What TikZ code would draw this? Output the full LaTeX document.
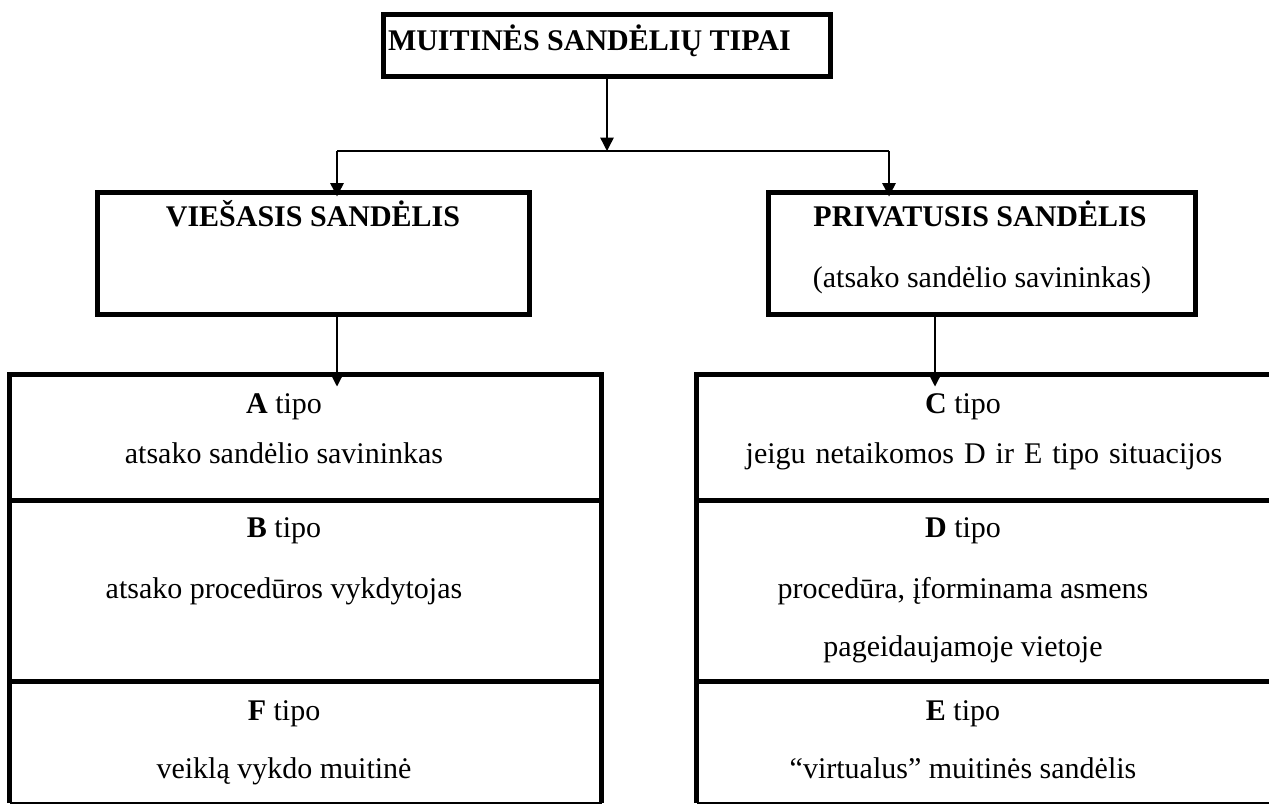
\documentclass[tikz,border=0pt]{standalone}
\usepackage{fontspec}
\setmainfont{Liberation Serif}
\usetikzlibrary{arrows.meta}
\begin{document}
\begin{tikzpicture}[x=0.75pt,y=-0.75pt,
  thickbox/.style={draw, line width=4.2pt, inner sep=0pt, outer sep=0pt},
  cell/.style={inner sep=0pt, outer sep=0pt},
  txt/.style={inner sep=0pt, outer sep=0pt, anchor=base, font=\fontsize{22.5}{27}\selectfont},
  framethick/.style={line width=4.2pt},
  framethin/.style={line width=0.9pt},
  conn/.style={line width=1.1pt},
  arr/.style={conn, -{Triangle[width=10pt,length=10pt]}},
]
\useasboundingbox (0,0) rectangle (1269,805);
\clip (0,0) rectangle (1269,805);

% top-level boxes
\node[thickbox, minimum width=335.25pt, minimum height=46.5pt] (title) at (607,45.5) {};
\node[thickbox, minimum width=324pt, minimum height=91.5pt] (vies) at (313.5,253.5) {};
\node[thickbox, minimum width=320.25pt, minimum height=91.5pt] (priv) at (982,253.5) {};

% table cells
\node[cell, minimum width=444pt, minimum height=94.5pt] (cellA) at (305.5,437.5) {};
\node[cell, minimum width=444pt, minimum height=135.75pt] (cellB) at (305.5,591) {};
\node[cell, minimum width=444pt, minimum height=91.125pt] (cellF) at (305.5,742.25) {};
\node[cell, minimum width=437.625pt, minimum height=94.5pt] (cellC) at (988.25,437.5) {};
\node[cell, minimum width=437.625pt, minimum height=135.75pt] (cellD) at (988.25,591) {};
\node[cell, minimum width=437.625pt, minimum height=91.125pt] (cellE) at (988.25,742.25) {};

% connectors
\coordinate (junc) at (607,151);
\coordinate (jL) at (337,151);
\coordinate (jR) at (889,151);
\coordinate (dR) at (935,320);
\draw[arr] (title.south) -- (junc);
\draw[conn] (jL) -- (jR);
\draw[arr] (jL) -- ([yshift=-3pt]jL |- vies.north);
\draw[arr] (jR) -- ([yshift=-3pt]jR |- priv.north);
\draw[arr] (jL |- vies.south) -- ([yshift=-9pt]jL |- cellA.north);
\draw[arr] (dR |- priv.south) -- ([yshift=-9pt]dR |- cellC.north);

% table frames
\draw[framethick] (cellF.south west) -- (cellA.north west) -- (cellA.north east) -- (cellF.south east);
\draw[framethick] (cellA.south west) -- (cellA.south east);
\draw[framethick] (cellB.south west) -- (cellB.south east);
\draw[framethin] (cellF.south west) -- (cellF.south east);
\draw[framethick] (cellE.south west) -- (cellC.north west) -- (cellC.north east) -- (cellE.south east);
\draw[framethick] (cellC.south west) -- (cellC.south east);
\draw[framethick] (cellD.south west) -- (cellD.south east);
\draw[framethin] (cellE.south west) -- (cellE.south east);

% texts
\node[txt, anchor=base west] (titletxt) at (388,51) {\textbf{MUITINĖS SANDĖLIŲ TIPAI}};
\node[txt] (viestxt) at (313,227) {\textbf{VIEŠASIS SANDĖLIS}};
\node[txt] (privtxt) at (980,227) {\textbf{PRIVATUSIS SANDĖLIS}};
\node[txt] (privsub) at (982,287) {(atsako sandėlio savininkas)};

\node[txt] (tA1) at (284,413) {\textbf{A} tipo};
\node[txt] (tA2) at (284,463) {atsako sandėlio savininkas};
\node[txt] (tB1) at (284,537) {\textbf{B} tipo};
\node[txt] (tB2) at (284,598) {atsako procedūros vykdytojas};
\node[txt] (tF1) at (284,720) {\textbf{F} tipo};
\node[txt] (tF2) at (284,778) {veiklą vykdo muitinė};

\node[txt] (tC1) at (963,413) {\textbf{C} tipo};
\node[txt] (tC2) at (984,463) {\spaceskip=7.5pt jeigu netaikomos D ir E tipo situacijos};
\node[txt] (tD1) at (963,537) {\textbf{D} tipo};
\node[txt] (tD2) at (963,598) {procedūra, įforminama asmens};
\node[txt] (tD3) at (963,656) {pageidaujamoje vietoje};
\node[txt] (tE1) at (963,720) {\textbf{E} tipo};
\node[txt] (tE2) at (963,778) {“virtualus” muitinės sandėlis};
\end{tikzpicture}
\end{document}
